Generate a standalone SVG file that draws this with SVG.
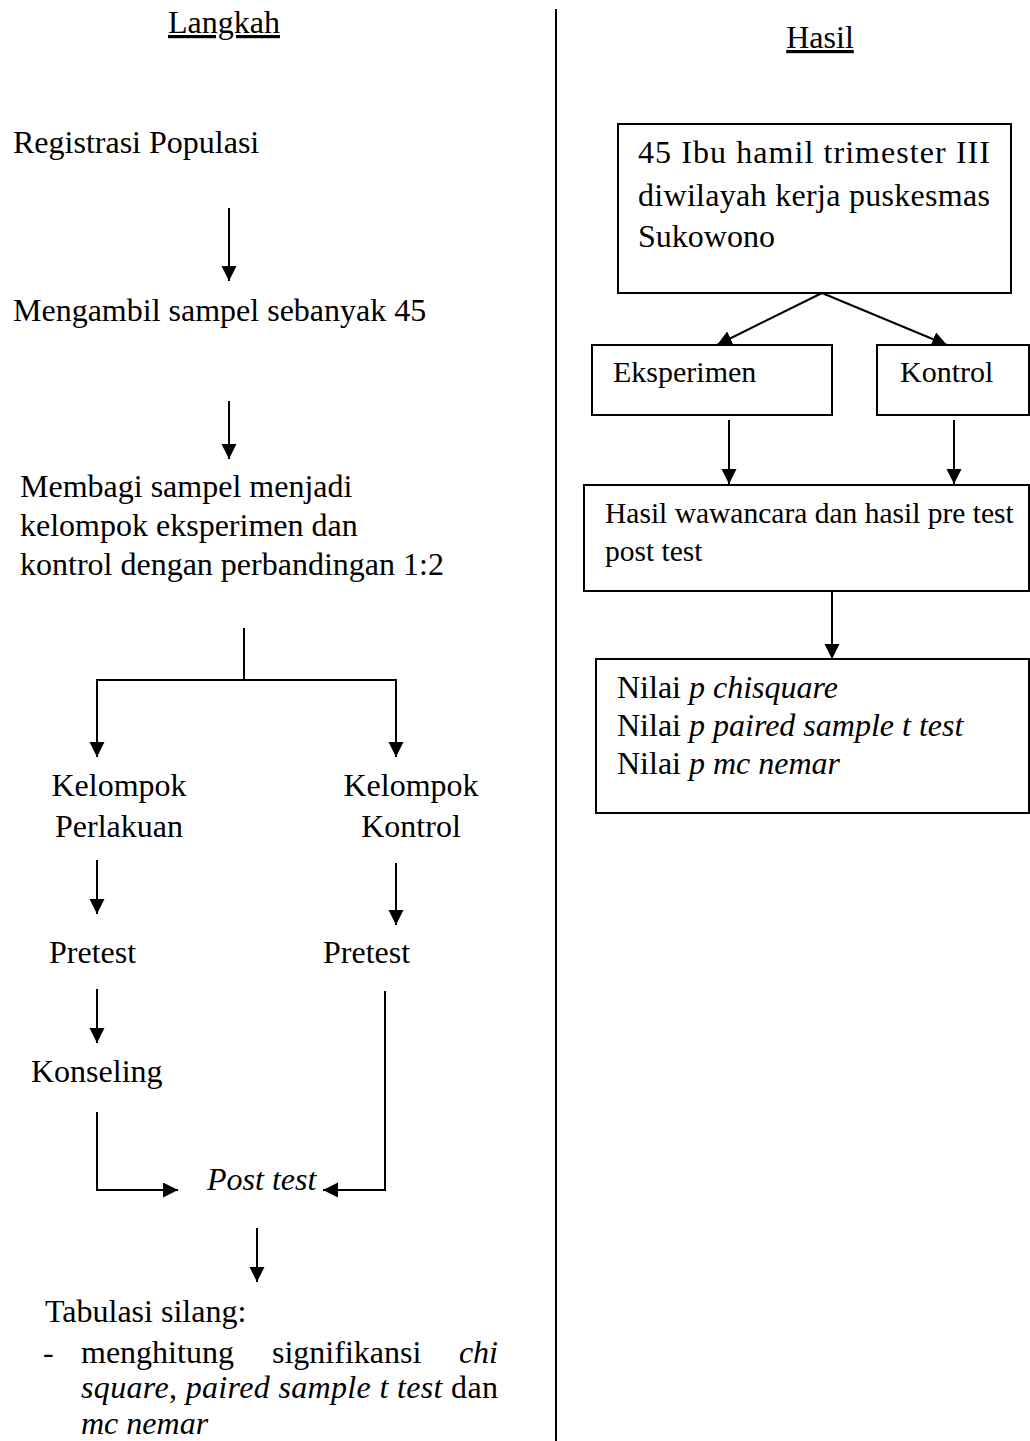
<svg xmlns="http://www.w3.org/2000/svg" width="1030" height="1441" viewBox="0 0 1030 1441">
<style>
text{font-family:"Liberation Serif","Times New Roman",serif;font-size:32px;fill:#000}
.s{font-size:30px}
.h{font-size:29.5px}
.i{font-style:italic}
.c{text-anchor:middle}
.u{text-decoration:underline}
.box{fill:#fff;stroke:#000;stroke-width:2}
.ln{fill:none;stroke:#000;stroke-width:2}
.ar{fill:none;stroke:#000;stroke-width:2;marker-end:url(#ah)}
</style>
<defs>
<marker id="ah" markerUnits="userSpaceOnUse" markerWidth="16" markerHeight="16" viewBox="0 0 16 16" refX="15" refY="7.5" orient="auto">
<path d="M0,0 L15,7.5 L0,15 z" fill="#000"/>
</marker>
</defs>
<rect width="1030" height="1441" fill="#fff"/>
<g id="connectors">
<line class="ln" x1="556" y1="9" x2="556" y2="1441" stroke-width="1.6"/>
<line class="ar" x1="229" y1="208" x2="229" y2="281"/>
<line class="ar" x1="229" y1="401" x2="229" y2="459"/>
<line class="ln" x1="244" y1="628" x2="244" y2="680" stroke-width="1.6"/>
<line class="ln" x1="96" y1="680" x2="397" y2="680" stroke-width="1.6"/>
<line class="ar" x1="97" y1="680" x2="97" y2="757"/>
<line class="ar" x1="396" y1="680" x2="396" y2="757"/>
<line class="ar" x1="97" y1="860" x2="97" y2="914"/>
<line class="ar" x1="396" y1="863" x2="396" y2="925"/>
<line class="ar" x1="97" y1="989" x2="97" y2="1043"/>
<polyline class="ar" points="97,1112 97,1190 178,1190"/>
<polyline class="ar" points="385,991 385,1190 323,1190"/>
<line class="ar" x1="257" y1="1228" x2="257" y2="1282"/>
<line class="ar" x1="822" y1="293" x2="717" y2="345"/>
<line class="ar" x1="822" y1="293" x2="947" y2="345"/>
<line class="ar" x1="729" y1="420" x2="729" y2="484"/>
<line class="ar" x1="954" y1="420" x2="954" y2="484"/>
<line class="ar" x1="832" y1="591" x2="832" y2="659"/>
</g>
<g id="heading-langkah"><text class="c u" x="224" y="33">Langkah</text></g>
<g id="heading-hasil"><text class="c u" x="820" y="48">Hasil</text></g>
<g id="registrasi"><text x="13" y="153">Registrasi Populasi</text></g>
<g id="mengambil"><text x="13" y="321">Mengambil sampel sebanyak 45</text></g>
<g id="membagi">
<text x="20" y="497">Membagi sampel menjadi</text>
<text x="20" y="536">kelompok eksperimen dan</text>
<text x="20" y="575">kontrol dengan perbandingan 1:2</text>
</g>
<g id="kelompok-perlakuan">
<text class="c" x="119" y="796">Kelompok</text>
<text class="c" x="119" y="837">Perlakuan</text>
</g>
<g id="kelompok-kontrol">
<text class="c" x="411" y="796">Kelompok</text>
<text class="c" x="411" y="837">Kontrol</text>
</g>
<g id="pretest-1"><text x="49" y="963">Pretest</text></g>
<g id="pretest-2"><text x="323" y="963">Pretest</text></g>
<g id="konseling"><text x="31" y="1082">Konseling</text></g>
<g id="posttest"><text class="i" x="207" y="1190">Post test</text></g>
<g id="tabulasi">
<text x="45" y="1322">Tabulasi silang:</text>
<text x="43" y="1363">-</text>
<text x="81" y="1363">menghitung</text>
<text x="272" y="1363">signifikansi</text>
<text class="i" x="498" y="1363" text-anchor="end">chi</text>
<text x="81" y="1398" textLength="417" lengthAdjust="spacing"><tspan class="i">square</tspan>, <tspan class="i">paired sample t test</tspan> dan</text>
<text class="i" x="81" y="1434">mc nemar</text>
</g>
<g id="populasi-box">
<rect class="box" x="618" y="124" width="393" height="169"/>
<text x="638" y="163" textLength="352" lengthAdjust="spacing">45 Ibu hamil trimester III</text>
<text x="638" y="206" textLength="352" lengthAdjust="spacing">diwilayah kerja puskesmas</text>
<text x="638" y="247">Sukowono</text>
</g>
<g id="eksperimen-box">
<rect class="box" x="592" y="345" width="240" height="70"/>
<text class="s" x="613" y="382">Eksperimen</text>
</g>
<g id="kontrol-box">
<rect class="box" x="877" y="345" width="152" height="70"/>
<text class="s" x="900" y="382">Kontrol</text>
</g>
<g id="hasil-box">
<rect class="box" x="584" y="485" width="445" height="106"/>
<text class="h" x="605" y="523">Hasil wawancara dan hasil pre test</text>
<text class="h" x="605" y="561">post test</text>
</g>
<g id="nilai-box">
<rect class="box" x="596" y="659" width="433" height="154"/>
<text x="617" y="698">Nilai <tspan class="i">p chisquare</tspan></text>
<text x="617" y="736">Nilai <tspan class="i">p paired sample t test</tspan></text>
<text x="617" y="774">Nilai <tspan class="i">p mc nemar</tspan></text>
</g>
</svg>
